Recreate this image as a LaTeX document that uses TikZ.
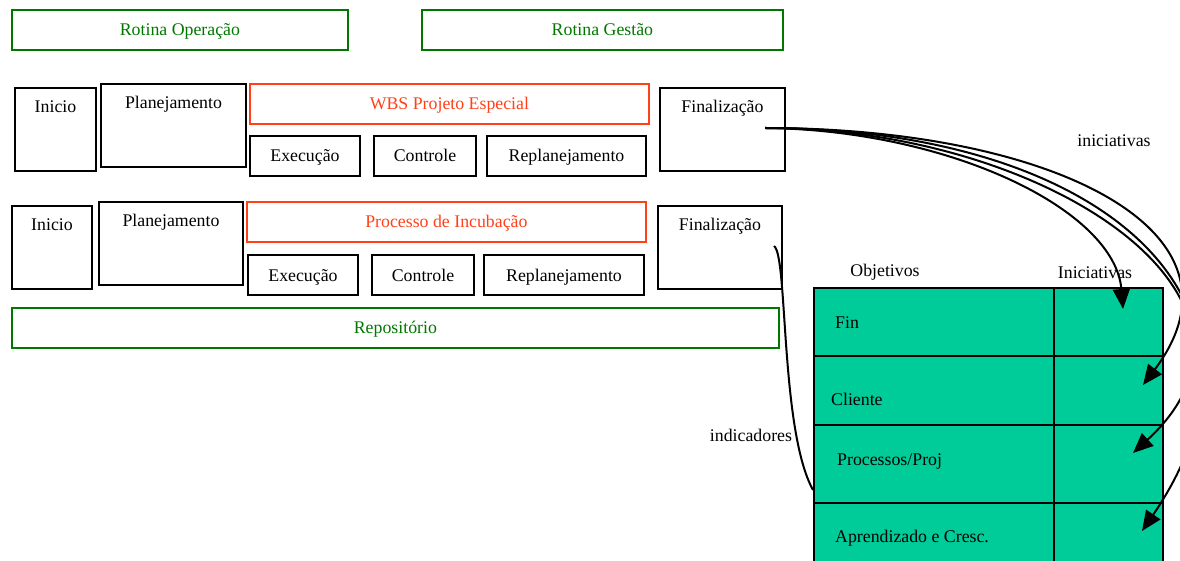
\documentclass[tikz,border=0pt]{standalone}
\usepackage{fontspec}
\setmainfont{Liberation Serif}
\usetikzlibrary{arrows.meta}

\definecolor{rotgreen}{RGB}{0,120,0}
\definecolor{wbsred}{RGB}{255,64,25}
\definecolor{bscfill}{RGB}{0,204,153}

\tikzset{
  phasebox/.style={rectangle, draw, line width=2pt, anchor=north west, inner xsep=0pt, inner ysep=13pt, text height=12pt, text depth=45pt},
  taskbox/.style={rectangle, draw, line width=2pt, anchor=north west, inner sep=0pt, minimum height=40pt, text height=12pt, text depth=0pt},
  routinebox/.style={taskbox, draw=rotgreen, text=rotgreen, line width=1.8pt},
  projbox/.style={taskbox, draw=wbsred, text=wbsred, line width=1.8pt},
  bsccell/.style={rectangle, draw, fill=bscfill, line width=2pt, anchor=north west, inner sep=0pt},
  celltext/.style={anchor=west, inner sep=0pt},
  link/.style={line width=2pt, -{Triangle[length=20pt,width=17pt]}},
}

\begin{document}
\begin{tikzpicture}[x=1pt, y=-1pt, font=\fontsize{17.8}{21}\selectfont]
\useasboundingbox (0,0) rectangle (1180,561);
\clip (0,0) rectangle (1180,561);

% rotinas
\node[routinebox, minimum width=336pt] (RO) at (11,9) {Rotina Operação};
\node[routinebox, minimum width=361pt] (RG) at (421,9) {Rotina Gestão};

% projeto especial
\node[phasebox, minimum width=81pt] (I1) at (14,87) {Inicio};
\node[phasebox, minimum width=145pt] (P1) at (100,83) {Planejamento};
\node[projbox, minimum width=399pt] (W1) at (249,83) {WBS Projeto Especial};
\node[taskbox, minimum width=110pt] (E1) at (249,135) {Execução};
\node[taskbox, minimum width=102pt] (C1) at (373,135) {Controle};
\node[taskbox, minimum width=159pt] (R1) at (486,135) {Replanejamento};
\node[phasebox, minimum width=125pt] (F1) at (659,87) {Finalização};

% incubacao
\node[phasebox, minimum width=80pt] (I2) at (11,205) {Inicio};
\node[phasebox, minimum width=144pt] (P2) at (98,201) {Planejamento};
\node[projbox, minimum width=399pt] (W2) at (246,201) {Processo de Incubação};
\node[taskbox, minimum width=110pt] (E2) at (247,254) {Execução};
\node[taskbox, minimum width=102pt] (C2) at (371,254) {Controle};
\node[taskbox, minimum width=160pt] (R2) at (483,254) {Replanejamento};
\node[phasebox, minimum width=124pt] (F2) at (657,205) {Finalização};

\node[routinebox, minimum width=767pt] (REP) at (11,307) {Repositório};

% tabela BSC
\node[bsccell, minimum width=240pt, minimum height=68pt] (O1) at (813,287) {};
\node[bsccell, minimum width=240pt, minimum height=69pt] (O2) at (813,355) {};
\node[bsccell, minimum width=240pt, minimum height=78pt] (O3) at (813,424) {};
\node[bsccell, minimum width=240pt, minimum height=78pt] (O4) at (813,502) {};
\node[bsccell, minimum width=109pt, minimum height=68pt] (N1) at (1053,287) {};
\node[bsccell, minimum width=109pt, minimum height=69pt] (N2) at (1053,355) {};
\node[bsccell, minimum width=109pt, minimum height=78pt] (N3) at (1053,424) {};
\node[bsccell, minimum width=109pt, minimum height=78pt] (N4) at (1053,502) {};

\node[celltext] (T1) at (835,323) {Fin};
\node[celltext] (T2) at (831,399) {Cliente};
\node[celltext] (T3) at (837,461) {Processos/Proj};
\node[celltext] (T4) at (835,538) {Aprendizado e Cresc.};

\node (OBJ) at (885,272) {Objetivos};
\node (INI) at (1095,273) {Iniciativas};
\node (LINI) at (1114,141) {iniciativas};
\node (LIND) at (751,435) {indicadores};

\coordinate (Fsrc) at (765,128);
\coordinate (Isrc) at (774,246);
\coordinate (Iend) at (813,490);
\coordinate (A1) at (1123,309);
\coordinate (A2) at (1143,385);
\coordinate (A3) at (1133,453);
\coordinate (A4) at (1142,531);

\draw[link] (Fsrc) .. controls (950,130) and (1115,210) .. (A1);
\draw[link] (Fsrc) .. controls (1050,128) and (1260,230) .. (A2);
\draw[link] (Fsrc) .. controls (1050,128) and (1300,300) .. (A3);
\draw[link] (Fsrc) .. controls (1100,128) and (1300,300) .. (A4);
\draw[line width=2pt] (Isrc) .. controls (788,255) and (780,430) .. (Iend);
\end{tikzpicture}
\end{document}
